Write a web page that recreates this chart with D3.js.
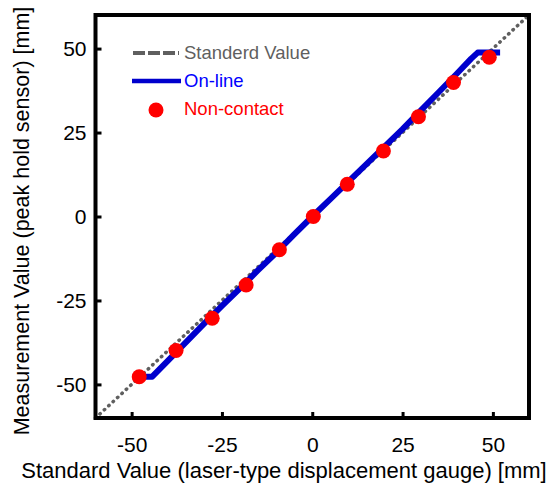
<!DOCTYPE html>
<html><head><meta charset="utf-8">
<script src="https://cdn.jsdelivr.net/npm/d3@7"></script>
<style>body{margin:0;background:#fff}svg{display:block}text{font-family:"Liberation Sans",Arial,sans-serif}</style>
</head><body><svg id="c" width="550" height="493"></svg>
<script>
const xTicks = [-50, -25, 0, 25, 50];
const yTicks = [-50, -25, 0, 25, 50];
const standardX = [-60, 60];
const standardY = [-60, 60];
const onlineX = [-48.5, -44.3, -40, -35, -30, -25, -20, -15, -10, -5, 0, 5, 10, 15, 20, 25, 30, 35, 40, 44, 45.8, 52];
const onlineY = [-47.7, -47.7, -43, -37.5, -32, -26.6, -21.4, -16, -10.8, -5.3, 0, 5.2, 10.4, 15.6, 20.8, 26, 31.5, 37, 42.5, 47, 48.8, 48.8];
const contactX = [-47.9, -37.7, -27.7, -18.3, -9.1, 0.3, 9.7, 19.7, 29.4, 39.1, 49];
const contactY = [-47.7, -39.9, -30.3, -20.4, -9.9, 0, 9.6, 19.5, 29.7, 39.9, 47.4];
const legendLabels = ["Standerd Value", "On-line", "Non-contact"];

const svg = d3.select("#c");
const L = 95.5, R = 529, T = 15, B = 418;
const x = d3.scaleLinear().domain([-60, 60]).range([L, R]);
const y = d3.scaleLinear().domain([-60, 60]).range([B, T]);

svg.append("line")
  .attr("x1", x(standardX[0])).attr("y1", y(standardY[0]))
  .attr("x2", x(standardX[1])).attr("y2", y(standardY[1]))
  .attr("stroke", "#5f5f5f").attr("stroke-width", 3.5)
  .attr("stroke-linecap", "round").attr("stroke-dasharray", "0.5,5.5");

const lineGen = d3.line().x(d => x(d[0])).y(d => y(d[1]));
svg.append("path").datum(onlineX.map((v, i) => [v, onlineY[i]]))
  .attr("d", lineGen).attr("fill", "none").attr("stroke", "#0000cd")
  .attr("stroke-width", 6).attr("stroke-linejoin", "round");

svg.selectAll("circle.pt").data(contactX.map((v, i) => [v, contactY[i]]))
  .enter().append("circle").attr("class", "pt")
  .attr("cx", d => x(d[0])).attr("cy", d => y(d[1])).attr("r", 7.5)
  .attr("fill", "#ff0000");

const fmt = d => String(d);
const xAxis = d3.axisBottom(x).tickValues(xTicks).tickSize(-6).tickPadding(19).tickFormat(fmt);
const gx = svg.append("g").attr("transform", `translate(0,${B})`).call(xAxis);
const yAxis = d3.axisLeft(y).tickValues(yTicks).tickSize(-6).tickPadding(9).tickFormat(fmt);
const gy = svg.append("g").attr("transform", `translate(${L},0)`).call(yAxis);
[gx, gy].forEach(g => {
  g.select(".domain").remove();
  g.selectAll(".tick line").attr("stroke", "#000").attr("stroke-width", 3);
  g.selectAll(".tick text").attr("font-size", 21).attr("fill", "#000")
    .attr("font-family", "Liberation Sans, Arial, sans-serif");
});
gx.selectAll(".tick text").attr("dy", "0.71em");

svg.append("rect").attr("x", L).attr("y", T).attr("width", R - L).attr("height", B - T)
  .attr("fill", "none").attr("stroke", "#000").attr("stroke-width", 4);

svg.append("text").attr("x", 284).attr("y", 478).attr("text-anchor", "middle")
  .attr("font-size", 22).text("Standard Value (laser-type displacement gauge) [mm]");
svg.append("text").attr("transform", `translate(29,221) rotate(-90)`)
  .attr("text-anchor", "middle").attr("font-size", 21.5)
  .text("Measurement Value (peak hold sensor) [mm]");

const lg = svg.append("g");
lg.append("line").attr("x1", 133).attr("x2", 179).attr("y1", 53).attr("y2", 53)
  .attr("stroke", "#5f5f5f").attr("stroke-width", 4).attr("stroke-dasharray", "12,3");
lg.append("line").attr("x1", 132).attr("x2", 181).attr("y1", 81).attr("y2", 81)
  .attr("stroke", "#0000cd").attr("stroke-width", 4.5);
lg.append("circle").attr("cx", 156).attr("cy", 110).attr("r", 7.5).attr("fill", "#ff0000");
const lcol = ["#5f5f5f", "#0000ff", "#ff0000"];
legendLabels.forEach((t, i) => {
  lg.append("text").attr("x", 184).attr("y", 53 + i * 28).attr("dy", "0.35em")
    .attr("font-size", 18.5).attr("fill", lcol[i]).text(t);
});
</script></body></html>
